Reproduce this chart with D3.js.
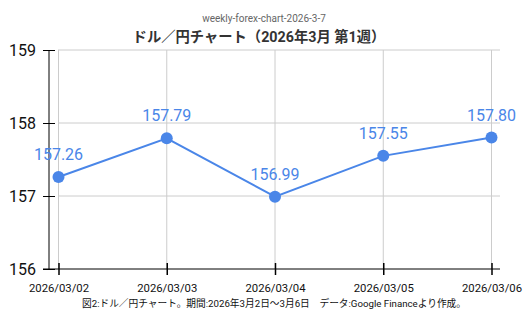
<!DOCTYPE html>
<html lang="ja">
<head>
<meta charset="UTF-8">
<title>weekly-forex-chart</title>
<script src="https://cdn.jsdelivr.net/npm/d3@7"></script>
<style>
    body{ margin: 0; background: #fff; }
    text{ font-family: Roboto, "Noto Sans CJK JP", sans-serif; }
</style>
</head>
<body>
<svg id="chart" width="532" height="318"></svg>
<script>
    // data
    let dates = ["2026/03/02", "2026/03/03", "2026/03/04", "2026/03/05", "2026/03/06"]
    let rates = [157.26, 157.79, 156.99, 157.55, 157.80]
    let yTicks = [156, 157, 158, 159]

    let svg = d3.select("#chart")
    let blue = "#4a86e8"

    let x = d3.scalePoint().domain(dates).range([58.5, 491.5])
    let y = d3.scaleLinear().domain([156, 159]).range([269, 50])

    // grid
    svg.append("g").selectAll("line").data(yTicks.slice(1)).enter().append("line")
        .attr("x1", 58).attr("x2", 500)
        .attr("y1", d => y(d)).attr("y2", d => y(d))
        .attr("stroke", "#cccccc")
    svg.append("g").selectAll("line").data(dates).enter().append("line")
        .attr("x1", d => x(d)).attr("x2", d => x(d))
        .attr("y1", 50).attr("y2", 269)
        .attr("stroke", "#cccccc")

    // y axis
    let yAxis = svg.append("g").attr("transform", "translate(49,0)")
        .call(d3.axisLeft(y).tickValues(yTicks).tickSize(6).tickFormat(d3.format("d")))
    yAxis.select(".domain").attr("d", "M0," + y(159) + "V" + y(156)).attr("stroke", "#000")
    yAxis.selectAll(".tick line").attr("x1", -6).attr("x2", 6).attr("stroke", "#000")
    yAxis.selectAll(".tick text").attr("x", -13).attr("font-size", 16)
        .attr("fill", "#111").style("font-family", "Roboto, sans-serif")

    // x axis
    let xAxis = svg.append("g").attr("transform", "translate(0,269)")
        .call(d3.axisBottom(x).tickSize(6))
    xAxis.select(".domain").attr("d", "M43,0H500").attr("stroke", "#000")
    xAxis.selectAll(".tick line").attr("y1", -6).attr("y2", 6).attr("stroke", "#000").attr("stroke-width", 1.5)
    xAxis.selectAll(".tick text").attr("y", 15).attr("font-size", 11.3)
        .attr("fill", "#111").style("font-family", "Roboto, sans-serif")

    // line
    let line = d3.line().x((d, i) => x(dates[i])).y(d => y(d))
    svg.append("path").datum(rates)
        .attr("d", line).attr("fill", "none")
        .attr("stroke", blue).attr("stroke-width", 2)

    svg.append("g").selectAll("circle").data(rates).enter().append("circle")
        .attr("cx", (d, i) => x(dates[i])).attr("cy", d => y(d))
        .attr("r", 6).attr("fill", blue)

    svg.append("g").selectAll("text").data(rates).enter().append("text")
        .attr("x", (d, i) => x(dates[i])).attr("y", d => y(d) - 17)
        .attr("text-anchor", "middle").attr("font-size", 16)
        .attr("fill", blue).style("font-family", "Roboto, sans-serif")
        .text(d => d.toFixed(2))

    // titles
    svg.append("text").attr("x", 264).attr("y", 22).attr("text-anchor", "middle")
        .attr("font-size", 10).attr("fill", "#666").text("weekly-forex-chart-2026-3-7")
    svg.append("text").attr("x", 259).attr("y", 42).attr("text-anchor", "middle")
        .attr("font-size", 14.3).attr("font-weight", "bold").attr("fill", "#333")
        .text("ドル／円チャート（2026年3月 第1週）")
    svg.append("text").attr("x", 274).attr("y", 307).attr("text-anchor", "middle")
        .attr("font-size", 9.7).attr("fill", "#111")
        .text("図2:ドル／円チャート。期間:2026年3月2日～3月6日　データ:Google Financeより作成。")
</script>
</body>
</html>
